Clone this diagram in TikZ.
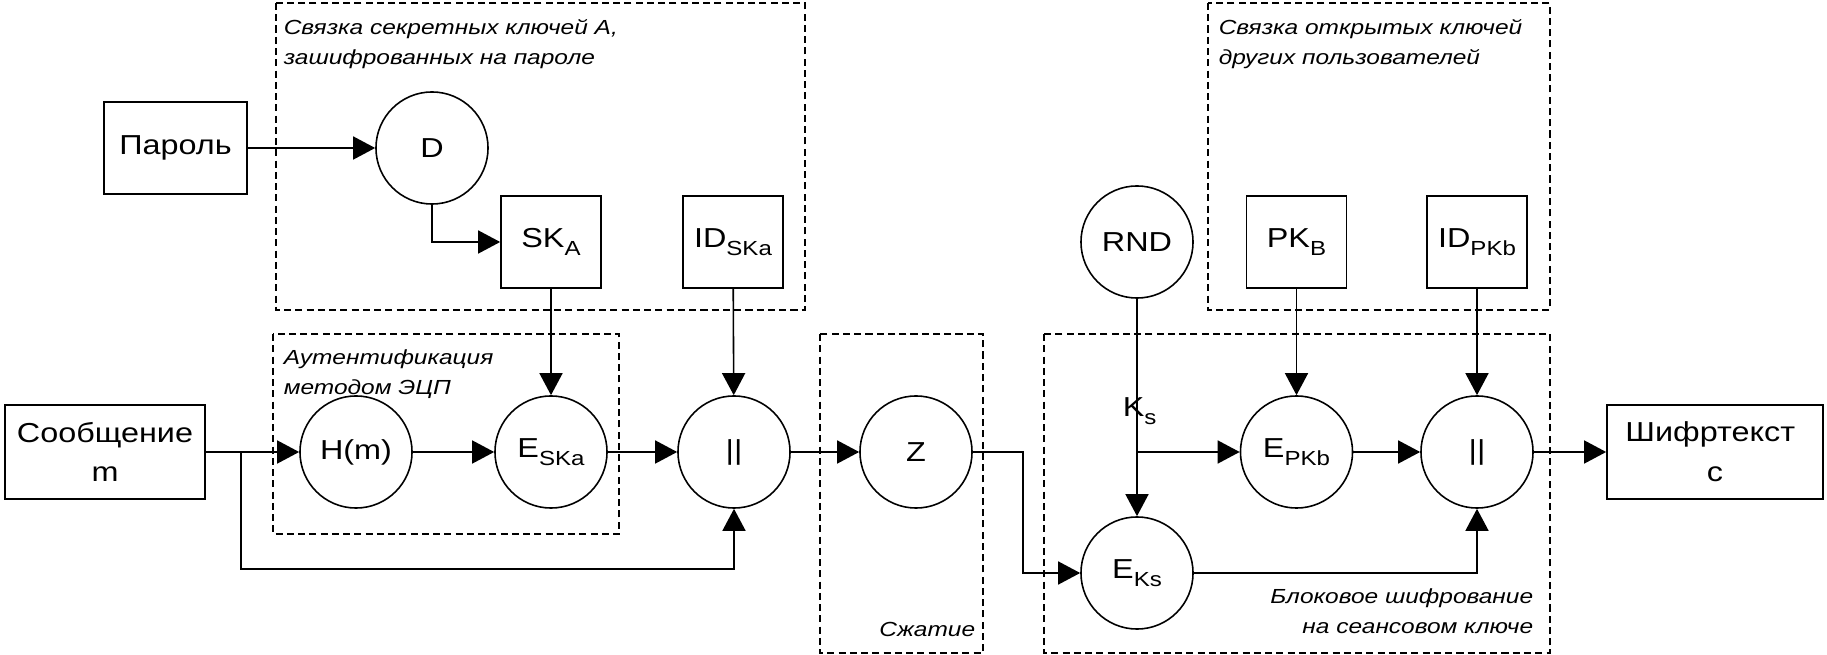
\documentclass[tikz,border=0pt]{standalone}
\usepackage{fontspec}
\setmainfont{Liberation Sans}[FakeStretch=1.18]
\newfontfamily\grpfont{Liberation Sans}[FakeStretch=1.2]
\usetikzlibrary{arrows.meta}
\newcommand{\idx}[1]{\raisebox{-2.1pt}{\fontsize{5.8}{6}\selectfont #1}}
\tikzset{
  block/.style={draw,minimum width=1cm,minimum height=0.92cm,inner sep=0pt},
  op/.style={circle,draw,minimum size=1.12cm,inner sep=0pt},
  group/.style={draw,dash pattern=on 2pt off 1.2pt},
  grplabel/.style={font=\grpfont\itshape\fontsize{5.8}{8.5}\selectfont,inner sep=0pt},
  flow/.style={-{Triangle[length=0.22cm,width=0.23cm]}},
}
\begin{document}
\begin{tikzpicture}[x=0.01cm,y=-0.01cm,line width=0.45pt,
  every node/.style={font=\fontsize{7.8}{11.3}\selectfont}]
          \useasboundingbox (0,0) rectangle (1827,655);

          % Groups
          \draw[group] (276,3) rectangle (805,310);
          \draw[group] (273,334) rectangle (619,534);
          \draw[group] (820,334) rectangle (983,653);
          \draw[group] (1044,334) rectangle (1550,653);
          \draw[group] (1208,3) rectangle (1550,310);
          \node[grplabel,anchor=north west,align=left] (lblsk) at (283,19) {Связка секретных ключей А,\\зашифрованных на пароле};
          \node[grplabel,anchor=north west,align=left] (lblauth) at (283,349) {Аутентификация\\методом ЭЦП};
          \node[grplabel,anchor=north west,align=left] (lblpk) at (1218,19) {Связка открытых ключей\\других пользователей};
          \node[grplabel,anchor=south east] (lblzip) at (976,637) {Сжатие};
          \node[grplabel,anchor=south east,align=right] (lblblock) at (1534,634) {Блоковое шифрование\\на сеансовом ключе};

          % Nodes
          \node[block,minimum width=1.43cm] (pwd) at (175.5,148) {Пароль};
          \node[op] (dec) at (432,148) {D};
          \node[block] (ska) at (551,242) {SK\idx{A}};
          \node[block] (idska) at (733,242) {ID\idx{SKa}};
          \node[block,minimum width=2cm,minimum height=0.94cm,align=center] (msg) at (105,452) {Сообщение\\m};
          \node[op] (hash) at (356,452) {H(m)};
          \node[op] (sign) at (551,452) {E\idx{SKa}};
          \node[op] (cat1) at (734,452) {||};
          \node[op] (zip) at (916,452) {Z};
          \node[op] (rnd) at (1137,242) {RND};
          \node[block] (pkb) at (1296.5,242) {PK\idx{B}};
          \node[block] (idpkb) at (1477,242) {ID\idx{PKb}};
          \node[op] (eks) at (1137,573) {E\idx{Ks}};
          \node[op] (epkb) at (1296.5,452) {E\idx{PKb}};
          \node[op] (cat2) at (1477,452) {||};
          \node[block,minimum width=2.16cm,minimum height=0.94cm,align=center] (ctext) at (1715,452) {Шифртекст\hspace*{0.35em}\\с};
          \node[anchor=base west,inner sep=0pt] (kslbl) at (1122,417) {K\idx{s}};

          % Bends
          \coordinate (split) at (241,452);
          \coordinate (low) at (241,569);
          \coordinate (zipturn) at (1023,452);
          \coordinate (ksplit) at (1137,452);

          % Arrows: forward
          \draw[flow] (pwd) -- (dec);
          \draw[flow] (dec.south) |- (ska.west);
          \draw[flow] (msg) -- (hash);
          \draw[flow] (hash) -- (sign);
          \draw[flow] (sign) -- (cat1);
          \draw[flow] (cat1) -- (zip);
          \draw[flow] (ska) -- (sign);
          \draw[flow] (idska) -- (cat1);
          \draw[flow] (zip.east) -- (zipturn) |- (eks.west);
          \draw[flow] (rnd) -- (eks);
          \draw[flow] (ksplit) -- (epkb);
          \draw[flow] (pkb) -- (epkb);
          \draw[flow] (idpkb) -- (cat2);
          \draw[flow] (epkb) -- (cat2);
          \draw[flow] (cat2) -- (ctext);

          % Bypass lines
          \draw[flow] (split) -- (low) -| (cat1.south);
          \draw[flow] (eks.east) -| (cat2.south);

        \end{tikzpicture}
\end{document}
